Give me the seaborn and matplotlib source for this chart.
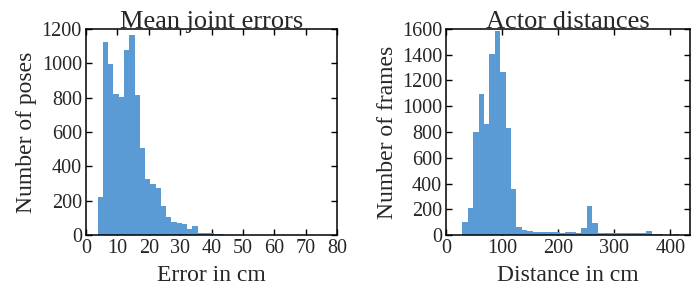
import numpy as np
import pandas as pd
import matplotlib
matplotlib.use("Agg")
import matplotlib.pyplot as plt
import seaborn as sns

# ---- data ----
err_range = (3.7, 44.0)
err_counts = [221, 1124, 998, 821, 804, 1078, 1165, 816, 509, 326, 297, 274,
              171, 107, 74, 68, 62, 35, 52, 14, 14, 14, 8, 5]

dist_range = (28.6, 415.0)
dist_counts = [104, 210, 801, 1097, 864, 1408, 1587, 1268, 832, 358,
               62, 40, 31, 25, 24, 24, 24, 24, 18, 24,
               24, 19, 55, 222, 90, 18, 18, 18, 18, 18,
               18, 18, 18, 18, 30, 10, 10, 0, 0, 10]

err_xticks = [0, 10, 20, 30, 40, 50, 60, 70, 80]
err_yticks = [0, 200, 400, 600, 800, 1000, 1200]
dist_xticks = [0, 100, 200, 300, 400]
dist_yticks = [0, 200, 400, 600, 800, 1000, 1200, 1400, 1600]

COLOR = "#5b9bd5"

sns.set_style("ticks")
plt.rcParams['font.family'] = ['Liberation Serif', 'DejaVu Serif']
plt.rcParams['xtick.direction'] = 'in'
plt.rcParams['ytick.direction'] = 'in'

fig = plt.figure(figsize=(6.91, 2.91), dpi=100)
ax1 = fig.add_axes([0.1245, 0.1924, 0.3632, 0.708])
ax2 = fig.add_axes([0.6459, 0.1924, 0.3527, 0.708])


def draw(ax, rng, counts, title, xlabel, ylabel, xlim, ylim, xt, yt):
    n = len(counts)
    edges = np.linspace(rng[0], rng[1], n + 1)
    centers = (edges[:-1] + edges[1:]) / 2
    df = pd.DataFrame({"x": centers, "w": np.asarray(counts, dtype=float)})
    sns.histplot(data=df, x="x", weights="w", bins=n, binrange=rng, ax=ax,
                 color=COLOR, alpha=1.0, linewidth=0)
    ax.set_xlim(*xlim)
    ax.set_ylim(*ylim)
    ax.set_xticks(xt)
    ax.set_yticks(yt)
    ax.tick_params(top=True, right=True, length=4, width=1, color='black',
                   labelsize=14.5, pad=3)
    for s in ax.spines.values():
        s.set_visible(True)
        s.set_color('black')
        s.set_linewidth(1.1)
    ax.set_title(title, fontsize=19, pad=1)
    ax.set_xlabel(xlabel, fontsize=17, labelpad=5)
    ax.set_ylabel(ylabel, fontsize=17, labelpad=3)


draw(ax1, err_range, err_counts, "Mean joint errors", "Error in cm",
     "Number of poses", (0, 80), (0, 1200), err_xticks, err_yticks)
draw(ax2, dist_range, dist_counts, "Actor distances", "Distance in cm",
     "Number of frames", (0, 435), (0, 1600), dist_xticks, dist_yticks)

fig.savefig("out.png", dpi=100)
